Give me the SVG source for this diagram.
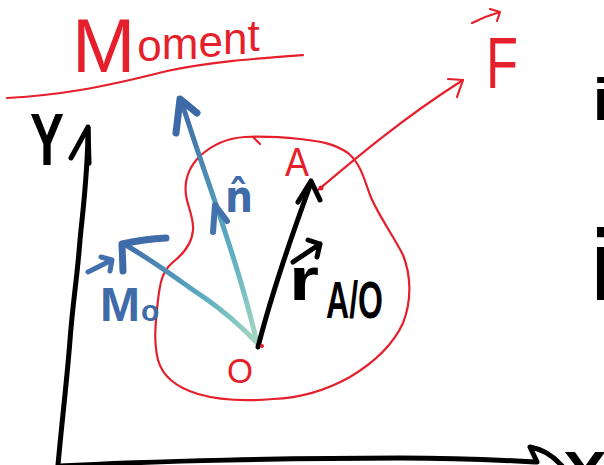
<svg xmlns="http://www.w3.org/2000/svg" width="604" height="465" viewBox="0 0 604 465">
<style>
.red{fill:none;stroke:#e51f2b;stroke-width:2.2;stroke-linecap:round;stroke-linejoin:round}
.blk{fill:none;stroke:#000;stroke-width:5;stroke-linecap:round;stroke-linejoin:round}
.blu{fill:none;stroke-linecap:round;stroke-linejoin:round}
.tr{fill:#e51f2b;font-family:"Liberation Sans",Arial,sans-serif}
.tk{fill:#000;font-family:"Liberation Sans",Arial,sans-serif;font-weight:bold}
.tb{fill:#3f6ba8;font-family:"DejaVu Sans","Liberation Sans",sans-serif;font-weight:bold}
.tm{fill:#3f6ba8;font-family:"Liberation Sans",Arial,sans-serif;font-weight:bold}
</style>
<defs>
<linearGradient id="gn" gradientUnits="userSpaceOnUse" x1="258" y1="345" x2="180" y2="98">
<stop offset="0" stop-color="#a9d9c2"/><stop offset="0.35" stop-color="#5fb0c2"/><stop offset="1" stop-color="#3d69a7"/>
</linearGradient>
<linearGradient id="gm" gradientUnits="userSpaceOnUse" x1="258" y1="345" x2="123" y2="243">
<stop offset="0" stop-color="#a9d9c2"/><stop offset="0.4" stop-color="#5fb0c2"/><stop offset="1" stop-color="#3f6ca9"/>
</linearGradient>
</defs>
<rect width="604" height="465" fill="#fff"/>

<g id="title">
<text class="tr" x="72" y="72" font-size="76">M<tspan font-size="44" dx="2" dy="-11">o</tspan><tspan font-size="44" dy="-2">m</tspan><tspan font-size="44" dy="-2">e</tspan><tspan font-size="44" dy="-3">n</tspan><tspan font-size="44" dy="-3">t</tspan></text>
<path class="red" d="M7,98 C60,95 100,88 167,71 C210,62 250,59 303,55" stroke-width="3"/>
</g>

<g id="body">
<path class="red" d="M245,137 C265,136 280,137 300,139 C320,141 335,144 348,153 C360,163 364,178 370,195 C378,215 393,235 403,255 C411,275 412,300 403,323 C393,345 375,362 350,377 C325,391 298,398 273,399 C250,401 222,401 198,394 C178,388 163,378 158,360 C153,340 156,320 158,300 C160,283 162,272 172,263 C182,255 192,245 193,230 C194,218 188,208 186,195 C184,180 188,168 200,156 C212,145 228,138 245,137 Z"/>
<path class="red" d="M253,137 L260,144"/>
</g>

<g id="axes">
<path class="blk" d="M58,465 C62,420 67,380 70,340 C73,300 77,280 80,240 C84,200 88,170 88,128"/>
<path class="blk" d="M71,158 L88,127 L89,163"/>
<path class="blk" d="M60,466 C150,461 300,458 400,458 C460,458 500,460 535,462"/>
<path class="blk" d="M537,462 L530,447 Q548,450 562,466"/>
<text class="tk" x="30" y="165" font-size="74" textLength="34" lengthAdjust="spacingAndGlyphs">Y</text>
<text class="tk" x="563" y="492" font-size="58" textLength="44" lengthAdjust="spacingAndGlyphs">X</text>
</g>

<g id="point-A">
<text class="tr" x="285" y="176" font-size="40" textLength="24" lengthAdjust="spacingAndGlyphs">A</text>
</g>
<g id="point-O">
<text class="tr" x="227" y="383" font-size="35" textLength="26" lengthAdjust="spacingAndGlyphs">O</text>
</g>

<g id="connectors">
<path class="red" d="M318,190 C350,163 400,120 463,80"/>
<path class="red" d="M448,79 L463,80 L457,97"/>
<path class="blu" stroke="url(#gm)" stroke-width="5" d="M257,343 C240,325 222,310 205,298 C185,285 160,265 124,244"/>
<path class="blu" stroke="#3f6ca9" stroke-width="7" d="M123,271 L122,244 Q145,239 166,238"/>
<path class="blu" stroke="url(#gn)" stroke-width="5" d="M257,343 C247,300 236,265 226,235 C215,200 200,160 181,100"/>
<path class="blu" stroke="#3d69a7" stroke-width="7" d="M176,133 L180,99 L197,113"/>
<path class="blu" stroke="#4271ad" stroke-width="6" d="M213,232 L215,205 L227,221"/>
<path class="blk" d="M258,347 C270,300 290,240 311,183"/>
<path class="blk" d="M298,202 L311,181 L320,200"/>
<circle cx="321" cy="188" r="2.5" fill="#e51f2b"/>
<circle cx="262" cy="346" r="2" fill="#e51f2b"/>
</g>

<g id="label-F">
<path class="red" d="M472,23 Q486,16 500,12 M490,9 L500,12 L497,21" stroke-width="2.5"/>
<text class="tr" x="486" y="88" font-size="72" textLength="32" lengthAdjust="spacingAndGlyphs">F</text>
</g>

<g id="label-n">
<text class="tb" x="225" y="212" font-size="44" textLength="28" lengthAdjust="spacingAndGlyphs">n̂</text>
</g>

<g id="label-M">
<path class="blu" stroke="#4271ad" stroke-width="5" d="M88,272 L112,260 M101,257 L112,260 L110,271"/>
<text class="tm" x="100" y="321" font-size="48">M<tspan font-size="30" dx="1">o</tspan></text>
</g>

<g id="label-r">
<path class="blk" d="M293,262 L320,244 M308,240 L320,244 L317,257"/>
<text class="tk" x="289" y="300" font-size="62" textLength="30" lengthAdjust="spacingAndGlyphs">r</text>
<text class="tk" x="326" y="318" font-size="52" textLength="57" lengthAdjust="spacingAndGlyphs">A/O</text>
</g>

<g id="edge-marks">
<text class="tk" x="593" y="120" font-size="60">i</text>
<text class="tk" x="590" y="300" font-size="100">i</text>
</g>
</svg>
